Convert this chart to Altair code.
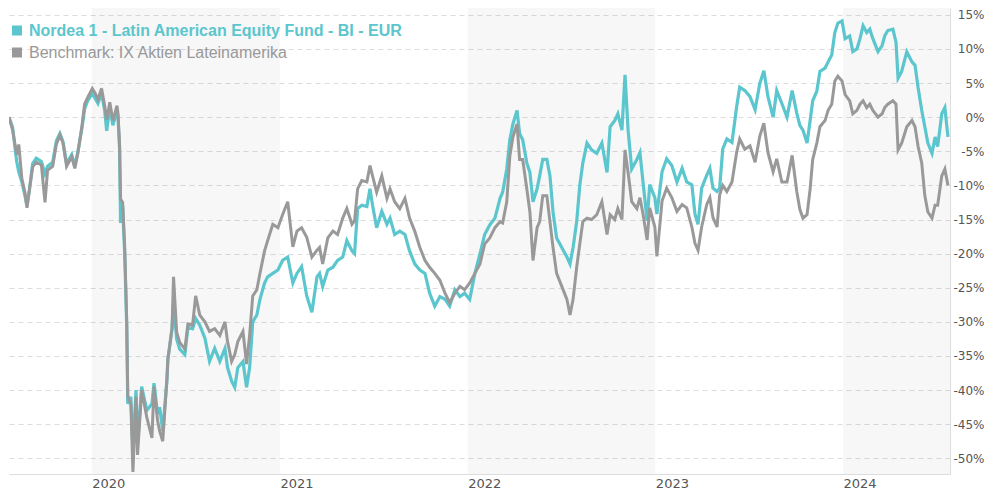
import altair as alt
import pandas as pd

# ---- data ----
dates = [
 "2019-07-24","2019-07-31","2019-08-08","2019-08-12","2019-08-18","2019-08-24","2019-08-28","2019-09-02","2019-09-08","2019-09-15",
 "2019-09-25","2019-10-02","2019-10-07","2019-10-17","2019-10-24","2019-10-31","2019-11-06","2019-11-13","2019-11-23","2019-11-29",
 "2019-12-05","2019-12-13","2019-12-18","2019-12-24","2020-01-02","2020-01-07","2020-01-13","2020-01-20","2020-01-26","2020-01-30",
 "2020-02-05","2020-02-11","2020-02-19","2020-02-21","2020-02-24","2020-02-26","2020-03-01","2020-03-05","2020-03-09","2020-03-11",
 "2020-03-17","2020-03-21","2020-03-27","2020-03-30","2020-04-07","2020-04-17","2020-04-27","2020-05-01","2020-05-08","2020-05-12",
 "2020-05-18","2020-05-26","2020-05-28","2020-06-05","2020-06-08","2020-06-14","2020-06-20","2020-06-30","2020-07-06","2020-07-15",
 "2020-07-21","2020-07-29","2020-08-08","2020-08-17","2020-08-27","2020-09-06","2020-09-16","2020-09-21","2020-09-29","2020-10-05",
 "2020-10-11","2020-10-21","2020-10-28","2020-11-03","2020-11-09","2020-11-17","2020-11-23","2020-12-02","2020-12-08","2020-12-18",
 "2020-12-28","2021-01-06","2021-01-16","2021-01-26","2021-02-03","2021-02-12","2021-02-22","2021-03-04","2021-03-14","2021-03-19",
 "2021-03-25","2021-04-04","2021-04-14","2021-04-23","2021-05-03","2021-05-11","2021-05-21","2021-05-26","2021-06-01","2021-06-09",
 "2021-06-19","2021-06-25","2021-06-30","2021-07-08","2021-07-18","2021-07-28","2021-08-03","2021-08-12","2021-08-22","2021-09-01",
 "2021-09-10","2021-09-20","2021-09-30","2021-10-10","2021-10-19","2021-10-29","2021-11-08","2021-11-18","2021-11-27","2021-12-07",
 "2021-12-17","2021-12-26","2022-01-05","2022-01-15","2022-01-25","2022-02-03","2022-02-13","2022-02-23","2022-03-05","2022-03-10",
 "2022-03-18","2022-03-24","2022-03-30","2022-04-07","2022-04-12","2022-04-18","2022-04-26","2022-05-02","2022-05-08","2022-05-16",
 "2022-05-21","2022-05-27","2022-06-04","2022-06-10","2022-06-16","2022-06-23","2022-07-03","2022-07-13","2022-07-19","2022-07-25",
 "2022-08-01","2022-08-07","2022-08-13","2022-08-21","2022-08-30","2022-09-09","2022-09-19","2022-09-29","2022-10-05","2022-10-14",
 "2022-10-20","2022-10-28","2022-11-03","2022-11-09","2022-11-16","2022-11-26","2022-12-02","2022-12-08","2022-12-16","2022-12-21",
 "2022-12-31","2023-01-04","2023-01-14","2023-01-23","2023-02-02","2023-02-12","2023-02-22","2023-03-03","2023-03-13","2023-03-19",
 "2023-03-25","2023-04-01","2023-04-11","2023-04-17","2023-04-23","2023-05-01","2023-05-06","2023-05-12","2023-05-20","2023-05-30",
 "2023-06-08","2023-06-14","2023-06-24","2023-07-04","2023-07-14","2023-07-23","2023-07-31","2023-08-08","2023-08-18","2023-08-25",
 "2023-09-04","2023-09-14","2023-09-24","2023-10-03","2023-10-09","2023-10-15","2023-10-23","2023-10-29","2023-11-03","2023-11-11",
 "2023-11-17","2023-11-27","2023-12-03","2023-12-10","2023-12-16","2023-12-22","2023-12-30","2024-01-05","2024-01-14","2024-01-20",
 "2024-01-28","2024-02-03","2024-02-09","2024-02-16","2024-02-22","2024-02-28","2024-03-09","2024-03-17","2024-03-22","2024-03-28",
 "2024-04-07","2024-04-13","2024-04-17","2024-04-24","2024-05-04","2024-05-14","2024-05-20","2024-05-26","2024-06-02","2024-06-08",
 "2024-06-14","2024-06-22","2024-06-28","2024-07-03","2024-07-11","2024-07-17","2024-07-23",
]

fund = [
 0, -1.5, -6.5, -8, -9.5, -11.5, -13, -10.5, -6.8, -6,
 -6.5, -8.3, -7.2, -6.6, -3.5, -2.4, -3.6, -6.8, -5.5, -7.2,
 -5, -1.6, 1.2, 2.4, 3.5, 2.8, 2, 3.5, 1, -2,
 1.5, -1.2, 1, 0, -4.5, -15.5, -13, -20, -31, -42,
 -41, -49, -40, -48, -39.5, -43, -42, -39, -43.5, -42.5,
 -46, -38.7, -35.5, -31, -27.2, -32.5, -34, -34.8, -30.8, -31,
 -29.5, -30.5, -32.4, -35.8, -33.9, -35.8, -33.9, -36.7, -38.7, -39.6,
 -36.7, -35.8, -39.6, -36.7, -30, -29, -26.7, -24.3, -23.4, -22.9,
 -22.4, -21, -20.5, -24.3, -22.9, -21.9, -26.2, -28.6, -23.4, -22.9,
 -24.8, -22.4, -22, -21, -20.5, -18.1, -19.6, -20, -13.4, -12.9,
 -13.1, -10.5, -12.9, -16.2, -13.8, -15.7, -14.8, -17.2, -16.7, -17.2,
 -19.6, -21.5, -22.4, -22.9, -25.8, -27.7, -26.3, -26.7, -27.7, -25.3,
 -26.3, -25.8, -26.7, -22.9, -20, -17.2, -15.8, -14.8, -11.9, -11,
 -7.6, -3.3, -1, 1, -2.4, -3.3, -6.7, -8.1, -12.4, -10.5,
 -8.6, -6.2, -6.2, -8.6, -13.9, -17.7, -19.1, -20.5, -21.5, -19.1,
 -15.3, -10, -6.7, -3.8, -4.8, -5.3, -3.8, -8.1, -1.4, -0.5,
 0.5, -1.9, 6.2, -1.9, -7.6, -6.2, -5.2, -9.5, -15.2, -9.9,
 -11.8, -14.2, -8, -6.1, -7.1, -9.5, -7.5, -9.5, -9.9, -14.2,
 -15.7, -10.4, -8.5, -7.5, -10.4, -10.9, -10.4, -4.7, -3.2, -3.7,
 1.5, 4.4, 3.9, 3, 1.1, 4.9, 6.8, 3, 0, 3.9,
 2, 0, 3.9, 0.6, -1.2, -1.9, -3.8, -0.5, 2.4, 3.8,
 6.7, 7.2, 8.1, 9.1, 12.4, 13.8, 14.1, 11.5, 11.9, 9.6,
 10, 11.5, 13.4, 12.4, 12.9, 11.5, 9.6, 10.5, 11.9, 12.7,
 12.9, 11, 5.7, 6.7, 9.6, 8.1, 7.6, 4.3, 1, -1.4,
 -3.8, -5.3, -2.9, -4.3, 0.5, 1.4, -2.9,
]

bench = [
 0, -1.9, -5.5, -4, -9, -11, -13.3, -10.5, -7.3, -6.6,
 -7, -12.5, -7.8, -7.2, -4, -2.6, -3.8, -7.2, -5.8, -7.5,
 -5.3, -1.2, 1.9, 2.9, 4.2, 3.6, 2.6, 4.2, 1.7, -0.4,
 2.2, -0.5, 1.7, 0.5, -4, -12, -12.5, -19, -30, -41,
 -42, -52, -41, -49.5, -40, -44, -47, -39.5, -44.5, -46,
 -47.5, -38.5, -35.5, -31, -23.4, -31.5, -33, -34, -30.3, -30.5,
 -26.2, -29, -30, -31.4, -31, -32, -30, -32.9, -35.8, -34.8,
 -32.9, -31.4, -36.2, -31.9, -26.2, -25.3, -22.9, -19.6, -18.1, -15.7,
 -16.2, -14.3, -12.4, -19, -16.7, -16.2, -17.6, -20.5, -19.5, -19.1,
 -21.5, -17.7, -16.7, -17.2, -14.8, -13.4, -15.7, -15.2, -10.5, -9.3,
 -9.5, -7.1, -8.6, -11, -8.6, -11.9, -10.5, -12.4, -13.4, -11.9,
 -14.8, -16.7, -19.1, -21, -22, -22.9, -23.9, -25.8, -27.2, -25.8,
 -24.8, -25.3, -24.3, -22.9, -21.5, -18.6, -17.7, -16.2, -15.3, -15.5,
 -12.4, -5.7, -2.9, -1, -6.2, -6.2, -10.5, -13.9, -21, -16.2,
 -15.3, -11.5, -11.5, -15.3, -19.1, -22.9, -24.8, -26.7, -29, -26.7,
 -22, -18.6, -15.3, -14.8, -15, -14.3, -12.4, -17.2, -14.3, -15,
 -13.4, -15, -4.8, -8.1, -12.4, -13.4, -11.8, -14.2, -18, -13.3,
 -16.1, -20.4, -12.3, -10.4, -11.8, -13.8, -12.8, -13.3, -16.1, -18.5,
 -19.5, -16.1, -12.8, -11.8, -14.7, -16.1, -11.4, -10, -10.9, -9.5,
 -5.2, -3.2, -4.7, -4.2, -6.6, -2.8, -0.9, -5.2, -8, -6.1,
 -9.5, -9.5, -5.6, -10.9, -13.5, -14.8, -14.3, -10.5, -6.2, -3.8,
 -1.4, -0.5, 1, 1.9, 5.3, 6, 5.3, 3.3, 2.4, 0.5,
 1, 1.9, 2.4, 1.4, 1.9, 1, 0, 0.5, 1.4, 1.9,
 2.4, 1.9, -4.8, -3.8, -1.4, -0.5, -1.4, -4.3, -6.7, -11.5,
 -13.9, -14.8, -12.9, -12.9, -8.6, -7.6, -10,
]

series_names = ["Nordea 1 - Latin American Equity Fund - BI - EUR",
                "Benchmark: IX Aktien Lateinamerika"]
series_colors = ["#5bc6cd", "#999999"]

band_starts = ["2020-01-01", "2022-01-01", "2024-01-01"]
band_ends = ["2021-01-01", "2023-01-01", "2024-07-27"]

y_ticks = [-50, -45, -40, -35, -30, -25, -20, -15, -10, -5, 0, 5, 10, 15]
year_ticks = [2020, 2021, 2022, 2023, 2024]

# ---- tables ----
df_fund = pd.DataFrame({"date": dates, "value": fund})
df_bench = pd.DataFrame({"date": dates, "value": bench})
df_bands = pd.DataFrame({"start": band_starts, "end": band_ends})
df_leg1 = pd.DataFrame({"name": [series_names[0]]})
df_leg2 = pd.DataFrame({"name": [series_names[1]]})

x_scale = alt.Scale(type="utc",
                    domain=[alt.DateTime(year=2019, month=7, date=24, utc=True),
                            alt.DateTime(year=2024, month=7, date=27, utc=True)])
y_scale = alt.Scale(domain=[-52.3, 16.0], nice=False, zero=False)

x_axis = alt.Axis(values=[alt.DateTime(year=y, month=1, date=1, utc=True) for y in year_ticks],
                  labelExpr="utcFormat(datum.value, '%Y')",
                  grid=False, ticks=False, domainColor="#dddddd", domainWidth=1,
                  labelAlign="left", labelPadding=3, labelFont="DejaVu Sans",
                  labelFontSize=13, labelColor="#555555", title=None)
y_axis = alt.Axis(orient="right", values=y_ticks, labelExpr="datum.value + '%'",
                  grid=True, gridDash=[5, 4], gridColor="#dcdcdc", gridWidth=1,
                  ticks=False, domainColor="#dddddd", domainWidth=1,
                  labelAlign="right", labelPadding=34, labelFont="DejaVu Sans",
                  labelFontSize=12, labelColor="#555555", title=None)

bands = alt.Chart(df_bands).mark_rect(color="#000000", opacity=0.03).encode(
    x=alt.X("start:T", scale=x_scale, axis=x_axis),
    x2="end:T",
)

line_fund = alt.Chart(df_fund).mark_line(color=series_colors[0], strokeWidth=3.2, clip=True).encode(
    x=alt.X("date:T", scale=x_scale, axis=x_axis),
    y=alt.Y("value:Q", scale=y_scale, axis=y_axis),
)
line_bench = alt.Chart(df_bench).mark_line(color=series_colors[1], strokeWidth=3, clip=True).encode(
    x=alt.X("date:T", scale=x_scale, axis=x_axis),
    y=alt.Y("value:Q", scale=y_scale, axis=y_axis),
)

sq1 = alt.Chart(df_leg1).mark_square(color=series_colors[0], size=100, opacity=1).encode(
    x=alt.value(8), y=alt.value(22.5))
sq2 = alt.Chart(df_leg2).mark_square(color=series_colors[1], size=100, opacity=1).encode(
    x=alt.value(8), y=alt.value(44.5))
t1 = alt.Chart(df_leg1).mark_text(align="left", baseline="alphabetic", font="Liberation Sans",
                                  fontSize=16, fontWeight="bold", color=series_colors[0]).encode(
    x=alt.value(20), y=alt.value(28), text="name:N")
t2 = alt.Chart(df_leg2).mark_text(align="left", baseline="alphabetic", font="Liberation Sans",
                                  fontSize=16, color=series_colors[1]).encode(
    x=alt.value(20), y=alt.value(50), text="name:N")

chart = alt.layer(bands, line_fund, line_bench, sq1, sq2, t1, t2).properties(
    width=941, height=466,
    padding={"left": 1, "top": 0, "right": 34, "bottom": 18},
    autosize=alt.AutoSizeParams(type="none"),
    background="white",
).configure_view(stroke=None)

chart.save("out.html", embed_options={"renderer": "svg", "actions": False})
